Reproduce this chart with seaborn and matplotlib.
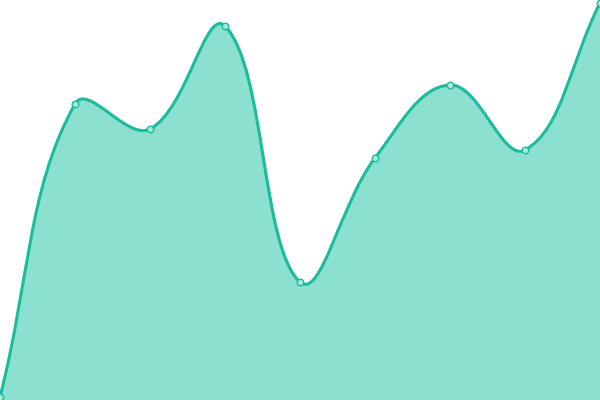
import numpy as np
import matplotlib.pyplot as plt
import seaborn as sns
from matplotlib.path import Path
from matplotlib.patches import PathPatch

# Data
x_idx = [0, 1, 2, 3, 4, 5, 6, 7, 8]
values = [3, 296, 271, 374, 118, 242, 315, 250, 397]

line_color = "#1abc9c"
fill_color = "#8be0cf"
tension = 0.4

sns.set_theme(style="white")

fig = plt.figure(figsize=(6, 4), dpi=100)
ax = fig.add_axes([0, 0, 1, 1])
ax.set_xlim(0, 8)
ax.set_ylim(0, 400)

# spline control points, worked out in pixel space
sx, sy = 600 / 8, 400 / 400
pts = np.array([[x * sx, v * sy] for x, v in zip(x_idx, values)])
n = len(pts)
cp_prev = pts.copy()
cp_next = pts.copy()
for i in range(n):
    prev = pts[max(i - 1, 0)]
    cur = pts[i]
    nxt = pts[min(i + 1, n - 1)]
    d01 = np.hypot(*(cur - prev))
    d12 = np.hypot(*(nxt - cur))
    tot = d01 + d12
    fa = tension * d01 / tot if tot else 0
    fb = tension * d12 / tot if tot else 0
    cp_prev[i] = cur - fa * (nxt - prev)
    cp_next[i] = cur + fb * (nxt - prev)
cp_prev[:, 1] = cp_prev[:, 1].clip(0, 400)
cp_next[:, 1] = cp_next[:, 1].clip(0, 400)

to_data = np.array([sx, sy])
verts = [pts[0] / to_data]
codes = [Path.MOVETO]
for i in range(n - 1):
    verts += [cp_next[i] / to_data, cp_prev[i + 1] / to_data, pts[i + 1] / to_data]
    codes += [Path.CURVE4] * 3

fill_verts = verts + [(x_idx[-1], 0), (x_idx[0], 0), verts[0]]
fill_codes = codes + [Path.LINETO, Path.LINETO, Path.CLOSEPOLY]
ax.add_patch(PathPatch(Path(fill_verts, fill_codes), facecolor=fill_color,
                       edgecolor="none", zorder=1))
ax.add_patch(PathPatch(Path(verts, codes), facecolor="none",
                       edgecolor=line_color, lw=2.2, zorder=2))

sns.scatterplot(x=x_idx, y=values, ax=ax, s=22, color="#a6ead9",
                edgecolor=line_color, linewidth=1, zorder=3, clip_on=False)

ax.axis("off")

plt.savefig("out.png", dpi=100)
plt.close()
